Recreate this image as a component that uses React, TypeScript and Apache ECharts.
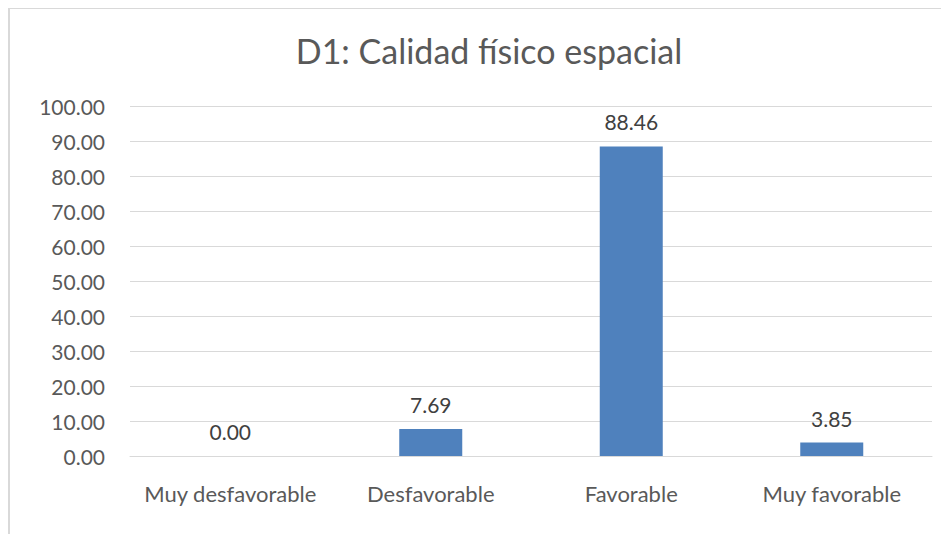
import React, { useEffect, useRef } from "react";
import * as echarts from "echarts";

const titleText = "D1: Calidad físico espacial";
const categories = ["Muy desfavorable", "Desfavorable", "Favorable", "Muy favorable"];
const values = [0.0, 7.69, 88.46, 3.85];
const yMin = 0;
const yMax = 100;
const yInterval = 10;

const FONT = "Lato, 'Noto Sans', sans-serif";
const TEXT = "#595959";
const GRID = "#d9d9d9";

export default function App() {
  const ref = useRef<HTMLDivElement>(null);
  useEffect(() => {
    if (!ref.current) return;
    const chart = echarts.init(ref.current, undefined, { renderer: "svg" });
    chart.setOption({
      animation: false,
      backgroundColor: "#ffffff",
      title: {
        text: titleText,
        left: 474,
        top: 19,
        textAlign: "center",
        textStyle: { fontFamily: FONT, fontSize: 34, fontWeight: "normal", color: TEXT },
      },
      grid: { left: 120, right: 17, top: 97, bottom: 78, containLabel: false },
      xAxis: {
        type: "category",
        data: categories,
        axisLine: { show: true, lineStyle: { color: GRID, width: 1 } },
        axisTick: { show: false },
        axisLabel: {
          interval: 0,
          hideOverlap: false,
          fontFamily: FONT,
          fontSize: 22,
          color: TEXT,
          margin: 26,
        },
      },
      yAxis: {
        type: "value",
        min: yMin,
        max: yMax,
        interval: yInterval,
        axisLine: { show: false },
        axisTick: { show: false },
        splitLine: { lineStyle: { color: GRID, width: 1 } },
        axisLabel: {
          fontFamily: FONT,
          fontSize: 21,
          color: TEXT,
          margin: 25,
          formatter: (v: number) => v.toFixed(2),
        },
      },
      series: [
        {
          type: "bar",
          data: values,
          barWidth: 63,
          itemStyle: { color: "#4f81bd" },
          label: {
            show: true,
            position: "top",
            distance: 14,
            fontFamily: FONT,
            fontSize: 21,
            color: "#404040",
            formatter: (p: any) => Number(p.value).toFixed(2),
          },
        },
      ],
    });
    return () => chart.dispose();
  }, []);
  return (
    <div
      style={{
        width: 941,
        height: 526,
        borderLeft: "2px solid #d9d9d9",
        borderTop: "1px solid #d9d9d9",
        boxSizing: "border-box",
        overflow: "hidden",
      }}
    >
      <div ref={ref} style={{ width: 939, height: 525 }} />
    </div>
  );
}
